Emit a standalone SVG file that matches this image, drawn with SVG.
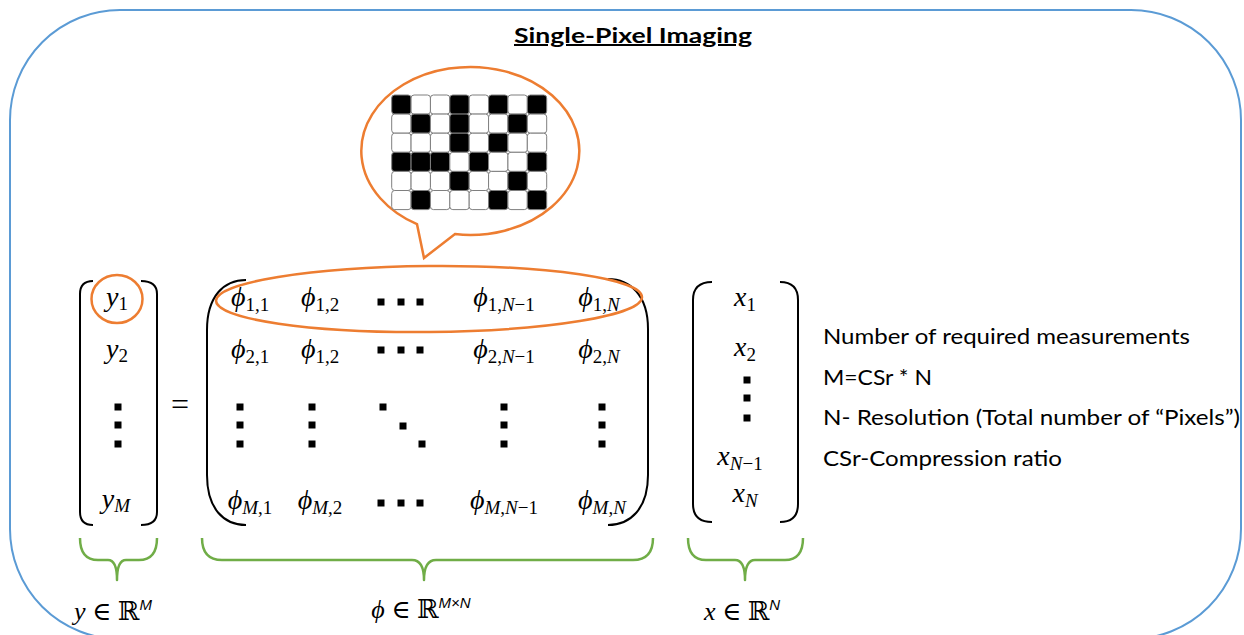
<svg xmlns="http://www.w3.org/2000/svg" width="1244" height="635" viewBox="0 0 1244 635">
<defs>
<style>
.frame{fill:none;stroke:#5B9BD5;stroke-width:2}
.title{font-family:Lato,"Liberation Sans",sans-serif;font-weight:bold;font-size:20px;fill:#000;text-decoration:underline}
.note{font-family:Lato,"Liberation Sans",sans-serif;font-size:22px;fill:#000}
.m{font-family:"Liberation Serif","DejaVu Serif",serif;font-size:28px;font-style:italic;fill:#000}
.sub{font-size:19px;font-style:normal}
.si{font-size:19px;font-style:italic}
.lab{font-family:"Liberation Serif","DejaVu Serif",serif;font-size:26px;fill:#000}
.sup{font-family:"Liberation Sans",sans-serif;font-size:15px;font-style:italic}
.br{fill:none;stroke:#000;stroke-width:2}
.or{fill:none;stroke:#ED7D31;stroke-width:2.5}
.gr{fill:none;stroke:#70AD47;stroke-width:2.5;stroke-linejoin:round}
.d{fill:#000}
.cb{fill:#000;stroke:#7F7F7F;stroke-width:1}
.cw{fill:#fff;stroke:#7F7F7F;stroke-width:1}
</style>
<rect id="dot" x="-3.5" y="-3.5" width="7" height="7" class="d"/>
</defs>

<g id="frame">
<rect class="frame" x="10" y="10" width="1231" height="629" rx="110" ry="110"/>
</g>

<g id="title">
<text class="title" x="633" y="43" text-anchor="middle" textLength="238" lengthAdjust="spacingAndGlyphs">Single-Pixel Imaging</text>
</g>

<g id="callout">
<path class="or" d="M 455 234.1 A 109 84 0 1 0 417 224.2 L 424 258 Z" style="fill:#fff"/>
<g id="pattern">
<rect class="cb" x="391.7" y="95" width="19.375" height="19.1" rx="3"/>
<rect class="cw" x="411.075" y="95" width="19.375" height="19.1" rx="3"/>
<rect class="cw" x="430.45" y="95" width="19.375" height="19.1" rx="3"/>
<rect class="cb" x="449.825" y="95" width="19.375" height="19.1" rx="3"/>
<rect class="cw" x="469.2" y="95" width="19.375" height="19.1" rx="3"/>
<rect class="cb" x="488.575" y="95" width="19.375" height="19.1" rx="3"/>
<rect class="cw" x="507.95" y="95" width="19.375" height="19.1" rx="3"/>
<rect class="cb" x="527.325" y="95" width="19.375" height="19.1" rx="3"/>

<rect class="cw" x="391.7" y="114.1" width="19.375" height="19.1" rx="3"/>
<rect class="cb" x="411.075" y="114.1" width="19.375" height="19.1" rx="3"/>
<rect class="cw" x="430.45" y="114.1" width="19.375" height="19.1" rx="3"/>
<rect class="cb" x="449.825" y="114.1" width="19.375" height="19.1" rx="3"/>
<rect class="cw" x="469.2" y="114.1" width="19.375" height="19.1" rx="3"/>
<rect class="cw" x="488.575" y="114.1" width="19.375" height="19.1" rx="3"/>
<rect class="cb" x="507.95" y="114.1" width="19.375" height="19.1" rx="3"/>
<rect class="cw" x="527.325" y="114.1" width="19.375" height="19.1" rx="3"/>

<rect class="cw" x="391.7" y="133.2" width="19.375" height="19.1" rx="3"/>
<rect class="cw" x="411.075" y="133.2" width="19.375" height="19.1" rx="3"/>
<rect class="cw" x="430.45" y="133.2" width="19.375" height="19.1" rx="3"/>
<rect class="cb" x="449.825" y="133.2" width="19.375" height="19.1" rx="3"/>
<rect class="cw" x="469.2" y="133.2" width="19.375" height="19.1" rx="3"/>
<rect class="cb" x="488.575" y="133.2" width="19.375" height="19.1" rx="3"/>
<rect class="cw" x="507.95" y="133.2" width="19.375" height="19.1" rx="3"/>
<rect class="cw" x="527.325" y="133.2" width="19.375" height="19.1" rx="3"/>

<rect class="cb" x="391.7" y="152.3" width="19.375" height="19.1" rx="3"/>
<rect class="cb" x="411.075" y="152.3" width="19.375" height="19.1" rx="3"/>
<rect class="cb" x="430.45" y="152.3" width="19.375" height="19.1" rx="3"/>
<rect class="cw" x="449.825" y="152.3" width="19.375" height="19.1" rx="3"/>
<rect class="cb" x="469.2" y="152.3" width="19.375" height="19.1" rx="3"/>
<rect class="cw" x="488.575" y="152.3" width="19.375" height="19.1" rx="3"/>
<rect class="cw" x="507.95" y="152.3" width="19.375" height="19.1" rx="3"/>
<rect class="cb" x="527.325" y="152.3" width="19.375" height="19.1" rx="3"/>

<rect class="cw" x="391.7" y="171.4" width="19.375" height="19.1" rx="3"/>
<rect class="cw" x="411.075" y="171.4" width="19.375" height="19.1" rx="3"/>
<rect class="cw" x="430.45" y="171.4" width="19.375" height="19.1" rx="3"/>
<rect class="cb" x="449.825" y="171.4" width="19.375" height="19.1" rx="3"/>
<rect class="cw" x="469.2" y="171.4" width="19.375" height="19.1" rx="3"/>
<rect class="cw" x="488.575" y="171.4" width="19.375" height="19.1" rx="3"/>
<rect class="cb" x="507.95" y="171.4" width="19.375" height="19.1" rx="3"/>
<rect class="cw" x="527.325" y="171.4" width="19.375" height="19.1" rx="3"/>

<rect class="cw" x="391.7" y="190.5" width="19.375" height="19.1" rx="3"/>
<rect class="cb" x="411.075" y="190.5" width="19.375" height="19.1" rx="3"/>
<rect class="cw" x="430.45" y="190.5" width="19.375" height="19.1" rx="3"/>
<rect class="cw" x="449.825" y="190.5" width="19.375" height="19.1" rx="3"/>
<rect class="cw" x="469.2" y="190.5" width="19.375" height="19.1" rx="3"/>
<rect class="cb" x="488.575" y="190.5" width="19.375" height="19.1" rx="3"/>
<rect class="cw" x="507.95" y="190.5" width="19.375" height="19.1" rx="3"/>
<rect class="cb" x="527.325" y="190.5" width="19.375" height="19.1" rx="3"/>
</g>
</g>

<g id="y-vector">
<path class="br" d="M 93 281 Q 80 281 80 294 L 80 512 Q 80 525 93 525"/>
<path class="br" d="M 141 281 Q 157 281 157 294 L 157 512 Q 157 525 141 525"/>
<text class="m" x="117" y="306" text-anchor="middle">y<tspan class="sub" dy="4">1</tspan></text>
<text class="m" x="117" y="358" text-anchor="middle">y<tspan class="sub" dy="4">2</tspan></text>
<use href="#dot" x="118" y="407"/><use href="#dot" x="118" y="425"/><use href="#dot" x="118" y="444"/>
<text class="m" x="116" y="508" text-anchor="middle">y<tspan class="si" dy="4">M</tspan></text>
<ellipse class="or" cx="117" cy="299" rx="25.5" ry="24"/>
</g>

<g id="equals">
<text x="180" y="415" text-anchor="middle" style="font-family:'Liberation Serif',serif;font-size:32px">=</text>
</g>

<g id="phi-matrix">
<path class="br" d="M 246 280 C 224 280 207 296 207 330 L 207 475 C 207 509 224 525 246 525"/>
<path class="br" d="M 608 279 C 630 279 648 295 648 329 L 648 475 C 648 509 630 525 608 525"/>
<text class="m" x="250" y="306" text-anchor="middle">ϕ<tspan class="sub" dy="5">1,1</tspan></text>
<text class="m" x="320" y="306" text-anchor="middle">ϕ<tspan class="sub" dy="5">1,2</tspan></text>
<use href="#dot" x="381" y="302"/><use href="#dot" x="401" y="302"/><use href="#dot" x="420" y="302"/>
<text class="m" x="504" y="306" text-anchor="middle">ϕ<tspan class="sub" dy="5">1,</tspan><tspan class="si">N</tspan><tspan class="sub">−1</tspan></text>
<text class="m" x="599" y="306" text-anchor="middle">ϕ<tspan class="sub" dy="5">1,</tspan><tspan class="si">N</tspan></text>

<text class="m" x="250" y="358" text-anchor="middle">ϕ<tspan class="sub" dy="5">2,1</tspan></text>
<text class="m" x="320" y="358" text-anchor="middle">ϕ<tspan class="sub" dy="5">1,2</tspan></text>
<use href="#dot" x="381" y="350"/><use href="#dot" x="401" y="350"/><use href="#dot" x="420" y="350"/>
<text class="m" x="504" y="358" text-anchor="middle">ϕ<tspan class="sub" dy="5">2,</tspan><tspan class="si">N</tspan><tspan class="sub">−1</tspan></text>
<text class="m" x="599" y="358" text-anchor="middle">ϕ<tspan class="sub" dy="5">2,</tspan><tspan class="si">N</tspan></text>

<use href="#dot" x="240" y="407"/><use href="#dot" x="240" y="425"/><use href="#dot" x="240" y="444"/>
<use href="#dot" x="312" y="407"/><use href="#dot" x="312" y="425"/><use href="#dot" x="312" y="444"/>
<use href="#dot" x="383" y="407"/><use href="#dot" x="403" y="426"/><use href="#dot" x="422" y="444"/>
<use href="#dot" x="504" y="407"/><use href="#dot" x="504" y="425"/><use href="#dot" x="504" y="444"/>
<use href="#dot" x="602" y="407"/><use href="#dot" x="602" y="425"/><use href="#dot" x="602" y="444"/>

<text class="m" x="250" y="509" text-anchor="middle">ϕ<tspan class="si" dy="5">M</tspan><tspan class="sub">,1</tspan></text>
<text class="m" x="320" y="509" text-anchor="middle">ϕ<tspan class="si" dy="5">M</tspan><tspan class="sub">,2</tspan></text>
<use href="#dot" x="381" y="503"/><use href="#dot" x="401" y="503"/><use href="#dot" x="420" y="503"/>
<text class="m" x="504" y="509" text-anchor="middle">ϕ<tspan class="si" dy="5">M</tspan><tspan class="sub">,</tspan><tspan class="si">N</tspan><tspan class="sub">−1</tspan></text>
<text class="m" x="602" y="509" text-anchor="middle">ϕ<tspan class="si" dy="5">M</tspan><tspan class="sub">,</tspan><tspan class="si">N</tspan></text>
<ellipse class="or" cx="429" cy="299" rx="213" ry="33" transform="rotate(-0.5 429 299)"/>
</g>

<g id="x-vector">
<path class="br" d="M 712 282 Q 693 282 693 300 L 693 504 Q 693 522 712 522"/>
<path class="br" d="M 780 282 Q 798 282 798 300 L 798 504 Q 798 522 780 522"/>
<text class="m" x="745" y="306" text-anchor="middle">x<tspan class="sub" dy="5">1</tspan></text>
<text class="m" x="745" y="356" text-anchor="middle">x<tspan class="sub" dy="5">2</tspan></text>
<use href="#dot" x="747" y="380"/><use href="#dot" x="747" y="398"/><use href="#dot" x="747" y="418"/>
<text class="m" x="740" y="465" text-anchor="middle">x<tspan class="si" dy="5">N</tspan><tspan class="sub">−1</tspan></text>
<text class="m" x="745" y="502" text-anchor="middle">x<tspan class="si" dy="5">N</tspan></text>
</g>

<g id="notes">
<text class="note" x="823" y="344" textLength="367" lengthAdjust="spacingAndGlyphs">Number of required measurements</text>
<text class="note" x="823" y="385" textLength="109" lengthAdjust="spacingAndGlyphs">M=CSr * N</text>
<text class="note" x="823" y="425" textLength="417" lengthAdjust="spacingAndGlyphs">N- Resolution (Total number of “Pixels”)</text>
<text class="note" x="823" y="466" textLength="239" lengthAdjust="spacingAndGlyphs">CSr-Compression ratio</text>
</g>

<g id="connectors">
<path class="gr" d="M 80 538 Q 80 560 98 560 L 108 560 Q 117 560 117 580 Q 117 560 126 560 L 139 560 Q 157 560 157 538"/>
<path class="gr" d="M 202 538 Q 202 560 222 560 L 412 560 Q 424 560 424 580 Q 424 560 436 560 L 633 560 Q 653 560 653 538"/>
<path class="gr" d="M 688 538 Q 688 560 706 560 L 735 560 Q 745 560 745 580 Q 745 560 755 560 L 785 560 Q 803 560 803 538"/>
</g>

<g id="labels">
<text class="lab" x="113" y="620" text-anchor="middle"><tspan font-style="italic">y</tspan> ∈ ℝ<tspan class="sup" dy="-10">M</tspan></text>
<text class="lab" x="421" y="618" text-anchor="middle"><tspan font-style="italic">ϕ</tspan> ∈ ℝ<tspan class="sup" dy="-10">M×N</tspan></text>
<text class="lab" x="742" y="620" text-anchor="middle"><tspan font-style="italic">x</tspan> ∈ ℝ<tspan class="sup" dy="-10">N</tspan></text>
</g>
</svg>
